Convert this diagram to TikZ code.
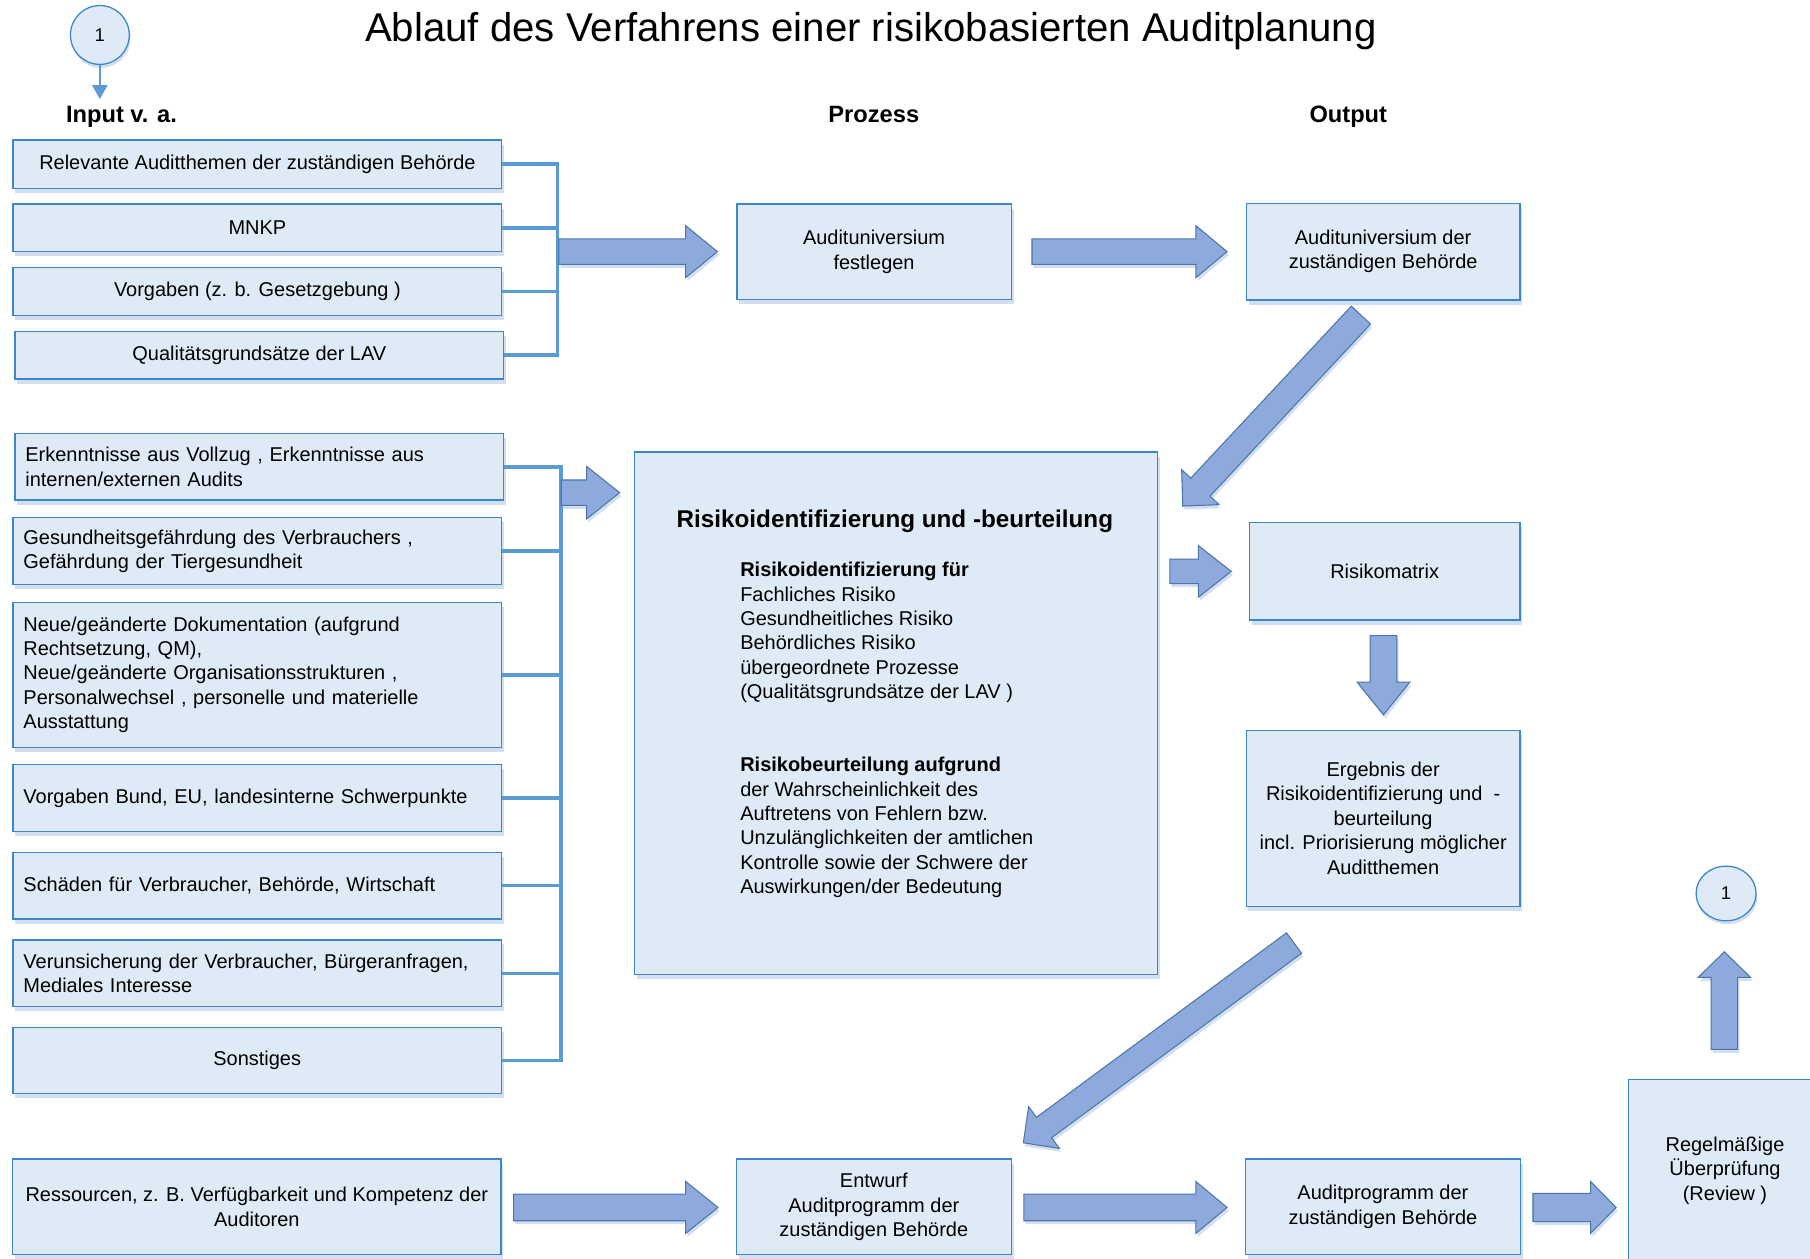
\documentclass[tikz,border=0pt]{standalone}
\usepackage{fontspec}
\setmainfont{Liberation Sans}
\usetikzlibrary{calc,arrows.meta,shapes.geometric}
\definecolor{boxfill}{HTML}{DEEAF6}
\definecolor{boxline}{HTML}{3B87CC}
\definecolor{brk}{HTML}{5B9BD5}
\definecolor{arrfill}{HTML}{8EA9DB}
\definecolor{arrline}{HTML}{4A76A8}
\definecolor{shad}{HTML}{D3DFEE}
\newcommand\bodyfont{\fontsize{17.3}{21.1}\selectfont}
\tikzset{
  box/.style={draw=boxline, fill=boxfill, line width=1.1pt, inner xsep=9pt, inner ysep=0pt,
    font=\bodyfont, preaction={fill=shad, transform canvas={xshift=2pt,yshift=-4pt}}},
  lbox/.style={box, align=left, text width=405pt},
  cbox/.style={box, align=center},
  brack/.style={draw=brk, line width=3.2pt, line join=miter},
  blk/.style={fill=arrfill, draw=arrline, line width=0.9pt, line join=miter,
    preaction={fill=shad, transform canvas={xshift=1.5pt,yshift=-3pt}}},
  hdr/.style={font=\fontsize{20.5}{24}\selectfont\bfseries, anchor=base},
  conn/.style={draw=boxline, fill=boxfill, line width=1.1pt, inner sep=0pt,
    font=\fontsize{16}{18}\selectfont, preaction={fill=shad, transform canvas={xshift=1pt,yshift=-3pt}}}
}
\newcommand\blockarrow[5]{%
  \coordinate (hb) at ($(#2)!#5!(#1)$);
  \path[blk] ($(#1)!#3!90:(#2)$) -- ($(hb)!#3!90:(#2)$) -- ($(hb)!#4!90:(#2)$) -- (#2)
    -- ($(hb)!#4!-90:(#2)$) -- ($(hb)!#3!-90:(#2)$) -- ($(#1)!#3!-90:(#2)$) -- cycle;
}
\begin{document}
\begin{tikzpicture}[x=1pt,y=-1pt]
\useasboundingbox (0,0) rectangle (1568,1090);
\clip (0,0) rectangle (1568,1090);
\fill[white] (0,0) rectangle (1568,1090);

% title and headers
\node[font=\fontsize{34.8}{40}\selectfont, anchor=base] (title) at (754.5,36.1) {Ablauf des Verfahrens einer risikobasierten Auditplanung};
\node[hdr, anchor=base west] (hin) at (53.7,106.3) {Input v. a.};
\node[hdr] (hpr) at (757,106.3) {Prozess};
\node[hdr] (hout) at (1168,106.3) {Output};

% connector circles
\node[conn, circle, minimum size=51pt] (C1) at (86.5,30.3) {1};
\coordinate (c1t) at (86.5,85.8);
\draw[draw=brk, line width=2pt, -{Triangle[width=13pt,length=12pt]}] (C1.south) -- (c1t);
\node[conn, ellipse, minimum width=52pt, minimum height=47.4pt] (C2) at (1495.3,774) {1};

% top input boxes
\node[cbox, minimum width=423.4pt, minimum height=41.9pt] (B1) at (223,142.25) {Relevante Auditthemen der zuständigen Behörde};
\node[cbox, minimum width=423.4pt, minimum height=41.3pt] (B2) at (223,197.4) {MNKP};
\node[cbox, minimum width=423.4pt, minimum height=41.3pt] (B3) at (223,252.5) {Vorgaben (z. b. Gesetzgebung )};
\node[cbox, minimum width=423.3pt, minimum height=41pt] (B4) at (224.7,307.8) {Qualitätsgrundsätze der LAV};

\coordinate (sp1) at (483,0);
\draw[brack] (B1.east) -- (B1.east -| sp1) -- (B4.east -| sp1) -- (B4.east);
\draw[brack] (B2.east) -- (B2.east -| sp1);
\draw[brack] (B3.east) -- (B3.east -| sp1);

% process / output top
\node[cbox, minimum width=237.7pt, minimum height=82.8pt] (P1) at (757.2,218.1) {Audituniversium\\festlegen};
\node[cbox, minimum width=237pt, minimum height=84pt] (O1) at (1198.2,218) {Audituniversium der\\zuständigen Behörde};

% middle input boxes
\node[lbox, minimum width=423pt, minimum height=57.6pt] (B5) at (224.5,404.4) {Erkenntnisse aus Vollzug , Erkenntnisse aus\\internen/externen Audits};
\node[lbox, minimum width=423pt, minimum height=58pt] (B6) at (222.8,477.5) {Gesundheitsgefährdung des Verbrauchers ,\\Gefährdung der Tiergesundheit};
\node[lbox, minimum width=423pt, minimum height=125.5pt] (B7) at (222.8,584.5) {Neue/geänderte Dokumentation (aufgrund\\Rechtsetzung, QM),\\Neue/geänderte Organisationsstrukturen ,\\Personalwechsel , personelle und materielle\\Ausstattung};
\node[lbox, minimum width=423pt, minimum height=58pt] (B8) at (222.8,691.2) {Vorgaben Bund, EU, landesinterne Schwerpunkte};
\node[lbox, minimum width=423pt, minimum height=58pt] (B9) at (222.8,767.2) {Schäden für Verbraucher, Behörde, Wirtschaft};
\node[lbox, minimum width=423pt, minimum height=58pt] (B10) at (222.8,843.2) {Verunsicherung der Verbraucher, Bürgeranfragen,\\Mediales Interesse};
\node[cbox, minimum width=423pt, minimum height=57.5pt] (B11) at (222.8,918.8) {Sonstiges};

\coordinate (sp2) at (486.2,0);
\draw[brack] (B5.east) -- (B5.east -| sp2) -- (B11.east -| sp2) -- (B11.east);
\foreach \n in {B6,B7,B8,B9,B10} \draw[brack] (\n.east) -- (\n.east -| sp2);

% big process box
\node[box, minimum width=453.1pt, minimum height=452.6pt] (R) at (776.35,617.9) {};
\node[font=\fontsize{21}{24}\selectfont\bfseries, anchor=base] (Rt) at (775.25,456.8) {Risikoidentifizierung und -beurteilung};
\node[font=\bodyfont, align=left, anchor=north west, inner sep=0pt] (Rx) at (641.1,487) {%
\textbf{Risikoidentifizierung für}\\
Fachliches Risiko\\
Gesundheitliches Risiko\\
Behördliches Risiko\\
übergeordnete Prozesse\\
(Qualitätsgrundsätze der LAV )\\[21.1pt]
\mbox{}\\
\textbf{Risikobeurteilung aufgrund}\\
der Wahrscheinlichkeit des\\
Auftretens von Fehlern bzw.\\
Unzulänglichkeiten der amtlichen\\
Kontrolle sowie der Schwere der\\
Auswirkungen/der Bedeutung};

% output right
\node[cbox, minimum width=234.6pt, minimum height=84.3pt] (M) at (1199.5,495) {Risikomatrix};
\node[cbox, minimum width=237.3pt, minimum height=152.5pt] (E) at (1198.2,708.8) {Ergebnis der\\Risikoidentifizierung und~~-\\beurteilung\\incl. Priorisierung möglicher\\Auditthemen};

% bottom row
\node[cbox, minimum width=423pt, minimum height=83pt] (Res) at (222.5,1045.5) {Ressourcen, z. B. Verfügbarkeit und Kompetenz der\\Auditoren};
\node[cbox, minimum width=238pt, minimum height=83pt] (Ent) at (757,1045.5) {Entwurf\\Auditprogramm der\\zuständigen Behörde};
\node[cbox, minimum width=238pt, minimum height=83pt] (AP) at (1198,1045.5) {Auditprogramm der\\zuständigen Behörde};
\node[cbox, minimum width=167.3pt, minimum height=158pt] (G) at (1494.35,1014) {Regelmäßige\\Überprüfung\\(Review )};

% block arrows
\coordinate (a1s) at (484.2,218);   \coordinate (a1t) at (621.5,218);
\blockarrow{a1s}{a1t}{11.1pt}{22.5pt}{27.5pt}
\coordinate (a2s) at (894,218);     \coordinate (a2t) at (1063,218);
\blockarrow{a2s}{a2t}{11.1pt}{22.5pt}{27pt}
\coordinate (a3s) at (1179,273);    \coordinate (a3t) at (1024.6,438.4);
\blockarrow{a3s}{a3t}{11.4pt}{22.2pt}{22.4pt}
\coordinate (a4s) at (486.2,426.8); \coordinate (a4t) at (536.8,426.8);
\blockarrow{a4s}{a4t}{11pt}{22.8pt}{28.7pt}
\coordinate (a5s) at (1013.4,495);  \coordinate (a5t) at (1066.6,495);
\blockarrow{a5s}{a5t}{10.6pt}{22.3pt}{28.4pt}
\coordinate (a6s) at (1198.5,550.6); \coordinate (a6t) at (1198.5,619.2);
\blockarrow{a6s}{a6t}{11.6pt}{22.8pt}{28.2pt}
\coordinate (a7s) at (1493.8,909);  \coordinate (a7t) at (1493.8,824.5);
\blockarrow{a7s}{a7t}{11.5pt}{22.7pt}{22.2pt}
\coordinate (a8s) at (1121,817);    \coordinate (a8t) at (886.5,990);
\blockarrow{a8s}{a8t}{11pt}{22.5pt}{22.3pt}
\coordinate (a9s) at (445,1046);    \coordinate (a9t) at (622,1046);
\blockarrow{a9s}{a9t}{11.5pt}{22.5pt}{28pt}
\coordinate (a10s) at (887,1046);   \coordinate (a10t) at (1063,1046);
\blockarrow{a10s}{a10t}{11.5pt}{22.5pt}{27pt}
\coordinate (a11s) at (1328,1046);  \coordinate (a11t) at (1400,1046);
\blockarrow{a11s}{a11t}{12.2pt}{22.4pt}{22pt}
\end{tikzpicture}
\end{document}
